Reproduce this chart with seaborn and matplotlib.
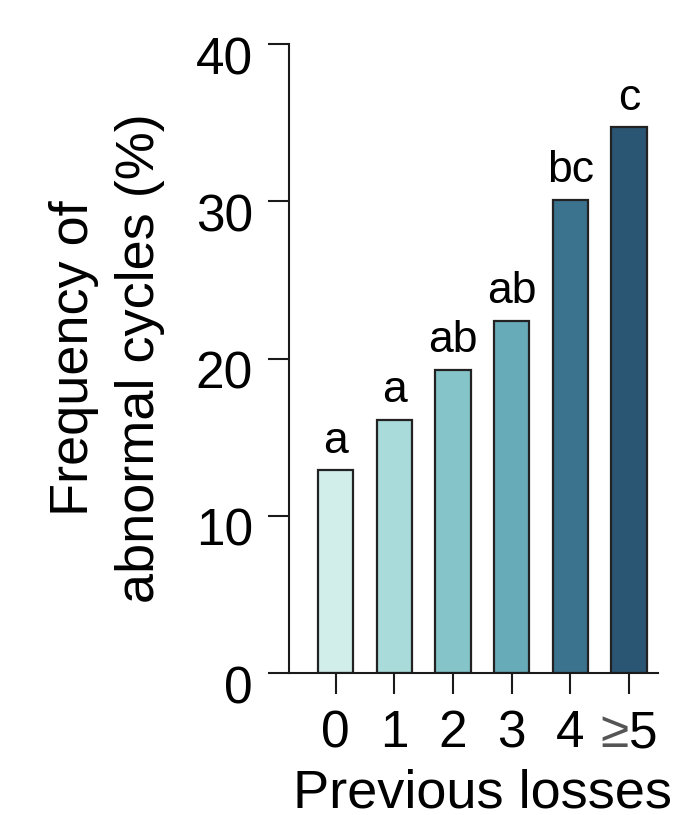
import matplotlib
matplotlib.use("Agg")
import matplotlib.pyplot as plt
import matplotlib.transforms as mtransforms
import seaborn as sns

# values
losses = ["0", "1", "2", "3", "4", "≥5"]
frequency = [12.9, 16.1, 19.3, 22.4, 30.1, 34.7]
letters = ["a", "a", "ab", "ab", "bc", "c"]
colors = ["#d1eeea", "#a8dbd9", "#85c4c9", "#68abb8", "#3b738f", "#2a5674"]

sns.set_style("ticks")
plt.rcParams["font.family"] = ["Liberation Sans", "DejaVu Sans"]
plt.rcParams["text.color"] = "black"
plt.rcParams["axes.labelcolor"] = "black"

fig = plt.figure(figsize=(6.75, 8.15), dpi=100)
ax = fig.add_axes([289 / 675, 1 - 673 / 815, (658 - 289) / 675, (673 - 44) / 815])

sns.barplot(x=losses, y=frequency, hue=losses, palette=colors, legend=False,
            width=0.6, edgecolor="#222222", linewidth=1.6, saturation=1, ax=ax)

for i, (v, lab) in enumerate(zip(frequency, letters)):
    ax.annotate(lab, (i, v), xytext=(0, 12.5), textcoords="offset points",
                ha="center", va="baseline", fontsize=32, color="black")

ax.set_ylim(0, 40)
ax.set_xlim(-0.797, 5.494)
ax.set_yticks([0, 10, 20, 30, 40])

for side in ["top", "right"]:
    ax.spines[side].set_visible(False)
for side in ["left", "bottom"]:
    ax.spines[side].set_linewidth(1.5)
    ax.spines[side].set_color("#1a1a1a")

ax.tick_params(axis="both", length=15, width=1.5, color="#1a1a1a",
               labelsize=37, pad=11, labelcolor="black")

ax.set_xlabel("Previous losses", fontsize=39)
ax.set_ylabel("Frequency of\nabnormal cycles (%)", fontsize=39, linespacing=1.42)
ax.xaxis.set_label_coords(0.525, -0.152)
ax.yaxis.set_label_coords(-0.335, 0.5)

# y tick labels sit a little below their ticks in the reference
shift = mtransforms.ScaledTranslation(0, -8 / 72, fig.dpi_scale_trans)
for t in ax.yaxis.get_major_ticks():
    t.label1.set_transform(t.label1.get_transform() + shift)

# the "≥" of the last category is grey, the digit black
ax.set_xticks(range(len(losses)))
ax.set_xticklabels(losses[:-1] + [losses[-1][:-1]])
last = ax.xaxis.get_major_ticks()[-1].label1
last.set_color("#555555")
left = mtransforms.ScaledTranslation(-10.3 / 72, 0, fig.dpi_scale_trans)
last.set_transform(last.get_transform() + left)
ax.annotate(losses[-1][-1], xy=(1, 0), xycoords=last, ha="left", va="bottom",
            fontsize=37, color="black")

fig.savefig("out.png", dpi=100)
